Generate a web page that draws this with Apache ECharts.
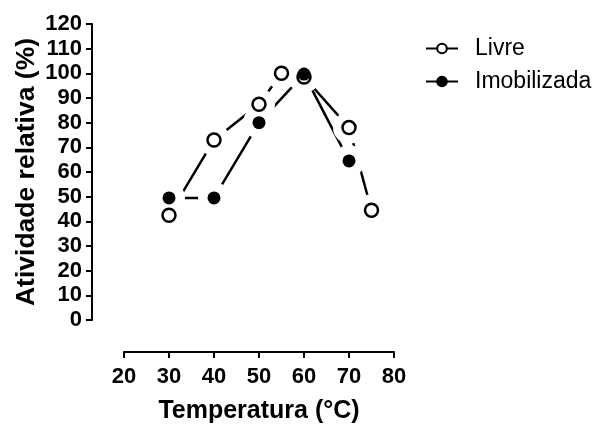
<!DOCTYPE html>
<html><head><meta charset="utf-8">
<script src="https://cdn.jsdelivr.net/npm/echarts@6/dist/echarts.min.js"></script>
<style>html,body{margin:0;padding:0;background:#fff}#c{width:600px;height:425px}</style>
</head><body><div id="c"></div>
<script>
var livreX = [30, 40, 50, 55, 60, 70, 75];
var livreY = [42.5, 73, 87.5, 100, 98.5, 78, 44.5];
var imobX = [30, 40, 50, 60, 70];
var imobY = [49.5, 49.5, 80, 99.7, 64.5];
var xTicks = [20, 30, 40, 50, 60, 70, 80];
var yTicks = [0, 10, 20, 30, 40, 50, 60, 70, 80, 90, 100, 110, 120];

function pairs(xs, ys) { return xs.map(function (x, i) { return [x, ys[i]]; }); }
var livre = pairs(livreX, livreY);
var imob = pairs(imobX, imobY);
var FONT = 'Liberation Sans, Arial, sans-serif';

var chart = echarts.init(document.getElementById('c'), null, {renderer: 'canvas'});
chart.setOption({
  animation: false,
  backgroundColor: '#fff',
  grid: {left: 124, right: 206, top: 24, bottom: 105, containLabel: false, outerBoundsMode: 'none'},
  legend: {
    data: ['Livre', 'Imobilizada'],
    orient: 'vertical',
    left: 420, top: 32,
    itemWidth: 32, itemHeight: 12, itemGap: 10,
    textStyle: {fontFamily: FONT, fontSize: 23, color: '#000', padding: [0, 0, 0, 12]}
  },
  xAxis: {
    type: 'value', min: xTicks[0], max: xTicks[xTicks.length - 1], interval: 10,
    offset: 32,
    axisLine: {show: true, onZero: false, lineStyle: {color: '#000', width: 2}},
    axisTick: {show: true, length: 6, lineStyle: {color: '#000', width: 2}},
    axisLabel: {color: '#000', fontFamily: FONT, fontWeight: 'bold', fontSize: 22, margin: 14},
    splitLine: {show: false},
    name: 'Temperatura (°C)', nameLocation: 'middle', nameGap: 47,
    nameTextStyle: {color: '#000', fontFamily: FONT, fontWeight: 'bold', fontSize: 25}
  },
  yAxis: {
    type: 'value', min: yTicks[0], max: yTicks[yTicks.length - 1], interval: 10,
    offset: 32,
    axisLine: {show: true, onZero: false, lineStyle: {color: '#000', width: 2}},
    axisTick: {show: true, length: 6, lineStyle: {color: '#000', width: 2}},
    axisLabel: {color: '#000', fontFamily: FONT, fontWeight: 'bold', fontSize: 22, margin: 10},
    splitLine: {show: false},
    name: 'Atividade relativa (%)', nameLocation: 'middle', nameGap: 52,
    nameTextStyle: {color: '#000', fontFamily: FONT, fontWeight: 'bold', fontSize: 26.5}
  },
  series: [
    {name: 'Livre', type: 'line', data: livre, z: 2,
     lineStyle: {color: '#000', width: 2.5}, symbol: 'circle', symbolSize: 13,
     itemStyle: {color: '#fff', borderColor: '#000', borderWidth: 2.5}},
    {name: 'Imobilizada', type: 'line', data: imob, z: 2,
     lineStyle: {color: '#000', width: 2.5}, symbol: 'circle', symbolSize: 13,
     itemStyle: {color: '#000', borderColor: '#000', borderWidth: 1}},
    {name: 'gapL', type: 'scatter', data: livre, z: 3, symbolSize: 32, silent: true,
     itemStyle: {color: '#fff', opacity: 1}},
    {name: 'gapI', type: 'scatter', data: imob, z: 3, symbolSize: 32, silent: true,
     itemStyle: {color: '#fff', opacity: 1}},
    {name: 'mL', type: 'scatter', data: livre, z: 4, symbolSize: 13, silent: true,
     itemStyle: {color: '#fff', borderColor: '#000', borderWidth: 2.5, opacity: 1}},
    {name: 'mI', type: 'scatter', data: imob, z: 5, symbolSize: 13, silent: true,
     itemStyle: {color: '#000', opacity: 1}}
  ]
});
</script></body></html>
